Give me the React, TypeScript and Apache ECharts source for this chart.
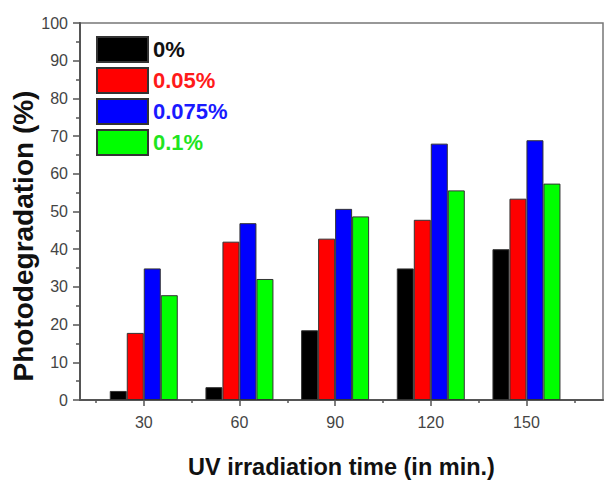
import React, { useEffect, useRef } from "react";
import * as echarts from "echarts";

const times = [30, 60, 90, 120, 150];
const seriesNames = ["0%", "0.05%", "0.075%", "0.1%"];
const values0 = [2.4, 3.4, 18.5, 34.9, 40.0];
const values005 = [17.8, 42.0, 42.8, 47.8, 53.4];
const values0075 = [34.9, 46.9, 50.7, 68.0, 68.9];
const values01 = [27.8, 32.1, 48.7, 55.6, 57.4];
const barColors = ["#000000", "#ff0000", "#0000ff", "#00ff00"];
const textColors = ["#111111", "#ff1a1a", "#1a1aff", "#1fe51f"];
const majorTicks = [30, 60, 90, 120, 150];
const minorTicks = [15, 45, 75, 105, 135, 165];
const xTitle = "UV irradiation time (in min.)";
const yTitle = "Photodegradation (%)";

const FONT = "Arial, 'Liberation Sans', Helvetica, sans-serif";

export default function App() {
  const ref = useRef<HTMLDivElement>(null);
  useEffect(() => {
    if (!ref.current) return;
    const chart = echarts.init(ref.current, undefined, { renderer: "svg" });
    const all = [values0, values005, values0075, values01];
    chart.setOption({
      animation: false,
      backgroundColor: "#ffffff",
      textStyle: { fontFamily: FONT },
      grid: {
        left: 80,
        top: 23,
        right: 1,
        bottom: 67,
        show: true,
        borderColor: "#777",
        borderWidth: 1.5,
      },
      legend: {
        orient: "vertical",
        left: 91,
        top: 31,
        itemWidth: 51,
        itemHeight: 25,
        itemGap: 4,
        icon: "rect",
        textStyle: { fontSize: 22, fontWeight: "bold", fontFamily: FONT },
        data: seriesNames.map((n, i) => ({
          name: n,
          textStyle: { color: textColors[i] },
        })),
      },
      graphic: [
        {
          type: "text",
          x: 23,
          y: 236,
          rotation: Math.PI / 2,
          style: {
            text: yTitle,
            fill: "#111",
            font: `bold 28px ${FONT}`,
            textAlign: "center",
            textVerticalAlign: "middle",
          },
        },
      ],
      xAxis: [
        {
          type: "value",
          min: 10,
          max: 174,
          name: xTitle,
          nameLocation: "middle",
          nameGap: 55,
          nameTextStyle: {
            fontSize: 23.5,
            fontWeight: "bold",
            color: "#111",
            fontFamily: FONT,
          },
          axisLine: { show: true, onZero: false, lineStyle: { color: "#555", width: 2 } },
          axisTick: {
            show: true,
            inside: false,
            length: 6,
            customValues: majorTicks,
            lineStyle: { color: "#555", width: 1.5 },
          },
          axisLabel: {
            customValues: majorTicks,
            fontSize: 16,
            color: "#444",
            margin: 14,
            fontFamily: FONT,
          },
          splitLine: { show: false },
        },
        {
          type: "value",
          min: 10,
          max: 174,
          position: "bottom",
          axisLine: { show: false },
          axisTick: {
            show: true,
            inside: false,
            length: 3,
            customValues: minorTicks,
            lineStyle: { color: "#555", width: 1.5 },
          },
          axisLabel: { show: false },
          splitLine: { show: false },
        },
      ],
      yAxis: {
        type: "value",
        min: 0,
        max: 100,
        interval: 10,
        axisLine: { show: true, lineStyle: { color: "#555", width: 2 } },
        axisTick: { show: true, inside: false, length: 7, lineStyle: { color: "#555", width: 1.5 } },
        minorTick: { show: true, splitNumber: 2, length: 4, lineStyle: { color: "#555", width: 1.5 } },
        axisLabel: { fontSize: 16, color: "#444", margin: 12, fontFamily: FONT },
        splitLine: { show: false },
        minorSplitLine: { show: false },
      },
      series: all.map((vals, i) => ({
        name: seriesNames[i],
        type: "bar",
        xAxisIndex: 0,
        barWidth: 17,
        barGap: "0%",
        itemStyle: { color: barColors[i], borderColor: "#333", borderWidth: 1 },
        data: times.map((t, j) => [t, vals[j]]),
      })),
    });
    return () => chart.dispose();
  }, []);
  return (
    <div
      ref={ref}
      style={{ position: "absolute", left: 0, top: 0, width: 604, height: 484 }}
    />
  );
}
